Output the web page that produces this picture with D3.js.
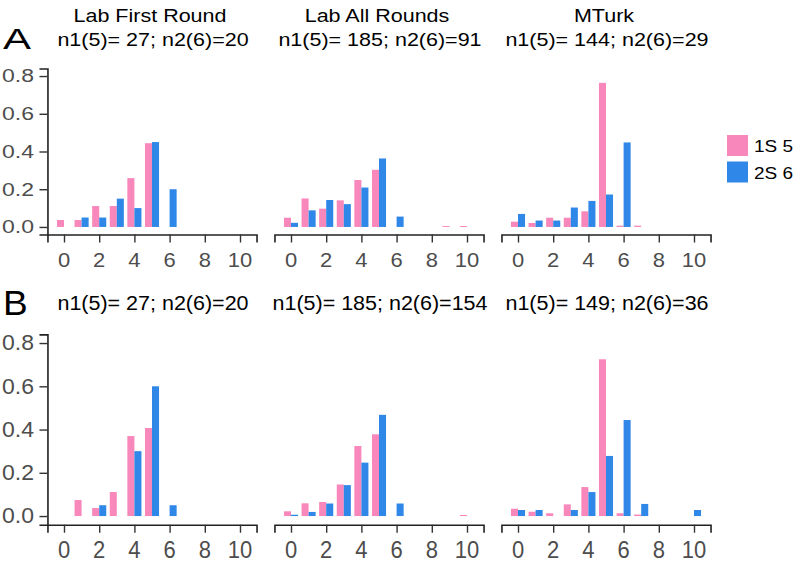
<!DOCTYPE html>
<html lang="en">
<head>
<meta charset="UTF-8">
<title>Rounds histogram</title>
<script src="https://d3js.org/d3.v7.min.js"></script>
<style>
  body { margin: 0; background: #fff; }
  svg text { font-family: "Liberation Sans", Arial, Helvetica, sans-serif; }
</style>
</head>
<body>
<div id="chart"></div>
<script>
// values (share of answers at each guess 0..10)
const guesses = [0, 1, 2, 3, 4, 5, 6, 7, 8, 9, 10];
const yTicks = [0, 0.2, 0.4, 0.6, 0.8];
const xTicks = [0, 2, 4, 6, 8, 10];
const seriesNames = ["1S 5", "2S 6"];
const colTitles = ["Lab First Round", "Lab All Rounds", "MTurk"];
const nLabelsA = ["n1(5)= 27; n2(6)=20", "n1(5)= 185; n2(6)=91", "n1(5)= 144; n2(6)=29"];
const nLabelsB = ["n1(5)= 27; n2(6)=20", "n1(5)= 185; n2(6)=154", "n1(5)= 149; n2(6)=36"];

const a1Pink = [0.037, 0.037, 0.111, 0.111, 0.259, 0.444, 0, 0, 0, 0, 0];
const a1Blue = [0, 0.05, 0.05, 0.15, 0.10, 0.45, 0.20, 0, 0, 0, 0];
const a2Pink = [0.049, 0.151, 0.097, 0.141, 0.249, 0.303, 0, 0, 0, 0.005, 0.005];
const a2Blue = [0.022, 0.088, 0.143, 0.121, 0.209, 0.363, 0.055, 0, 0, 0, 0];
const a3Pink = [0.028, 0.021, 0.049, 0.049, 0.083, 0.764, 0.007, 0.007, 0, 0, 0];
const a3Blue = [0.069, 0.034, 0.034, 0.103, 0.138, 0.172, 0.448, 0, 0, 0, 0];

const b1Pink = [0, 0.074, 0.037, 0.111, 0.370, 0.407, 0, 0, 0, 0, 0];
const b1Blue = [0, 0, 0.05, 0, 0.30, 0.60, 0.05, 0, 0, 0, 0];
const b2Pink = [0.022, 0.059, 0.065, 0.146, 0.324, 0.378, 0, 0, 0, 0, 0.005];
const b2Blue = [0.006, 0.019, 0.058, 0.143, 0.247, 0.468, 0.058, 0, 0, 0, 0];
const b3Pink = [0.034, 0.020, 0.013, 0.054, 0.134, 0.725, 0.013, 0.007, 0, 0, 0];
const b3Blue = [0.028, 0.028, 0, 0.028, 0.111, 0.278, 0.444, 0.056, 0, 0, 0.028];

const colors = ["#f888bb", "#2f87e8"];

const width = 796, height = 565;
const svg = d3.select("#chart").append("svg")
    .attr("width", width)
    .attr("height", height);

// the source figure is stretched unevenly, so text gets a vertical squash per row
function label(g, x, y, s, size, sy, anchor, fill) {
    g.append("text")
        .attr("transform", `translate(${x},${y}) scale(1,${sy})`)
        .attr("text-anchor", anchor)
        .attr("font-size", size)
        .attr("fill", fill)
        .text(s);
}

const colZero = [64, 291, 518];   // pixel position of x = 0 in each column
const unit = 17.6;

const rows = [
    { letter: "A", letterY: 48.5, letterSize: 42, letterSy: 0.7,
      top: 68.5, bottom: 234.5, sy: 0.82, xSy: 0.9,
      titleY: [21.7, 45.5], titles: colTitles, nLabels: nLabelsA,
      xLabelY: 266.5,
      pink: [a1Pink, a2Pink, a3Pink], blue: [a1Blue, a2Blue, a3Blue] },
    { letter: "B", letterY: 315, letterSize: 37, letterSy: 0.95,
      top: 334.4, bottom: 524.7, sy: 0.95, xSy: 1.05,
      titleY: [null, 310], titles: null, nLabels: nLabelsB,
      xLabelY: 558,
      pink: [b1Pink, b2Pink, b3Pink], blue: [b1Blue, b2Blue, b3Blue] }
];

rows.forEach(row => {
    const y = d3.scaleLinear().domain([-0.04, 0.84]).range([row.bottom, row.top]);

    label(svg, 3, row.letterY, row.letter, row.letterSize, row.letterSy, "start", "#000");

    colZero.forEach((x0, c) => {
        const x = d3.scaleLinear().domain([-0.94, 10.94])
            .range([x0 - 0.94 * unit, x0 + 10.94 * unit]);
        const mid = (x.range()[0] + x.range()[1]) / 2;

        const g = svg.append("g");

        if (row.titles) label(g, mid - 2, row.titleY[0], row.titles[c], 21.5, 0.88, "middle", "#000");
        label(g, mid + 1, row.titleY[1], row.nLabels[c], 21.5, row.sy, "middle", "#000");

        // bars, dodged: pink on the left half, blue on the right half
        const data = guesses.map((v, i) => ({ v: v, p: row.pink[c][i], b: row.blue[c][i] }));
        [["p", -0.4, 0], ["b", 0, 1]].forEach(([key, off, ci]) => {
            g.selectAll(null)
                .data(data.filter(d => d[key] > 0))
                .enter()
                .append("rect")
                .attr("x", d => x(d.v + off))
                .attr("width", x(0.4) - x(0))
                .attr("y", d => y(d[key]))
                .attr("height", d => y(0) - y(d[key]))
                .attr("fill", colors[ci]);
        });

        // x axis
        const xa = g.append("g")
            .attr("transform", `translate(0,${row.bottom})`)
            .call(d3.axisBottom(x).tickValues(xTicks).tickSize(8).tickFormat(""));
        xa.select(".domain").attr("stroke", "#222").attr("stroke-width", 1.6);
        xa.selectAll(".tick line").attr("stroke", "#333").attr("stroke-width", 1.4);
        xTicks.forEach(t => label(g, x(t), row.xLabelY, String(t), 22, row.xSy, "middle", "#4d4d4d"));

        // y axis only on the first column
        if (c === 0) {
            const ya = g.append("g")
                .attr("transform", `translate(${x.range()[0]},0)`)
                .call(d3.axisLeft(y).tickValues(yTicks).tickSize(8).tickFormat(""));
            ya.select(".domain").attr("stroke", "#222").attr("stroke-width", 1.6);
            ya.selectAll(".tick line").attr("stroke", "#333").attr("stroke-width", 1.4);
            yTicks.forEach(t => label(g, 34, y(t) + 7.8 * row.sy, d3.format(".1f")(t), 23, row.sy, "end", "#4d4d4d"));
        }
    });
});

// legend
const legend = svg.append("g");
seriesNames.forEach((name, i) => {
    legend.append("rect")
        .attr("x", 727).attr("y", 135 + i * 26.5)
        .attr("width", 21).attr("height", 21)
        .attr("fill", colors[i]);
    label(legend, 754, 152 + i * 26.5, name, 19, 0.85, "start", "#000");
});
</script>
</body>
</html>
